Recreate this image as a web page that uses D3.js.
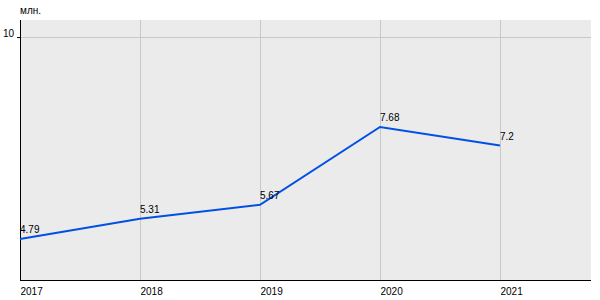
<!DOCTYPE html>
<html>
<head>
<meta charset="utf-8">
<script src="https://cdn.jsdelivr.net/npm/d3@7"></script>
<style>
  body { margin: 0; background: #fff; }
  svg text { font-family: "Liberation Sans", Arial, sans-serif; font-size: 10px; fill: #000; }
</style>
</head>
<body>
<svg width="600" height="300"></svg>
<script>
const YEARS = ['2017', '2018', '2019', '2020', '2021'];
const VALUES = [4.79, 5.31, 5.67, 7.68, 7.2];
const Y_TICKS = [10];
const UNIT = 'млн.';

const svg = d3.select('svg');
const margin = { top: 20, right: 9, bottom: 20, left: 20 };
const width = +svg.attr('width') - margin.left - margin.right;
const height = +svg.attr('height') - margin.top - margin.bottom;
const g = svg.append('g').attr('transform', `translate(${margin.left},${margin.top})`);

const x = d3.scalePoint()
    .domain(YEARS)
    .range([0, 480]);

const y = d3.scaleLinear()
    .domain([3.73, 10.44])
    .range([height, 0]);

g.append('rect')
    .attr('width', width)
    .attr('height', height)
    .attr('fill', '#ebebeb');

// grid
g.append('g')
  .selectAll('line')
  .data(YEARS.slice(1))
  .enter().append('line')
    .attr('x1', d => x(d) + 0.5)
    .attr('x2', d => x(d) + 0.5)
    .attr('y1', 0)
    .attr('y2', height)
    .attr('stroke', '#c8c8c8');

g.append('g')
  .selectAll('line')
  .data(Y_TICKS)
  .enter().append('line')
    .attr('x1', 0)
    .attr('x2', width)
    .attr('y1', d => Math.round(y(d)) + 0.5)
    .attr('y2', d => Math.round(y(d)) + 0.5)
    .attr('stroke', '#c8c8c8');

// axes
g.append('g')
    .attr('transform', `translate(0,${height})`)
    .call(d3.axisBottom(x).tickSize(0).tickPadding(6))
    .call(a => a.select('.domain').attr('d', `M0,0.5H${width}`).attr('stroke', '#000'))
    .selectAll('text')
      .attr('text-anchor', 'start')
      .attr('dy', '0.9em');

g.append('g')
    .call(d3.axisLeft(y).tickValues(Y_TICKS).tickSize(3).tickPadding(3).tickFormat(d3.format('d')))
    .call(a => a.select('.domain').attr('d', `M0.5,0V${height}`).attr('stroke', '#000'))
    .call(a => a.selectAll('.tick line').attr('stroke', '#000'))
    .selectAll('text')
      .attr('dy', '-0.1em');

svg.append('text')
    .attr('x', margin.left)
    .attr('y', 14)
    .text(UNIT);

// line
g.append('path')
    .datum(VALUES)
    .attr('fill', 'none')
    .attr('stroke', '#0050e6')
    .attr('stroke-width', 2)
    .attr('d', d3.line().x((d, i) => x(YEARS[i])).y(d => y(d)));

g.append('g')
  .selectAll('text')
  .data(VALUES)
  .enter().append('text')
    .attr('x', (d, i) => x(YEARS[i]))
    .attr('y', d => y(d) - 6)
    .text(d => d);
</script>
</body>
</html>
